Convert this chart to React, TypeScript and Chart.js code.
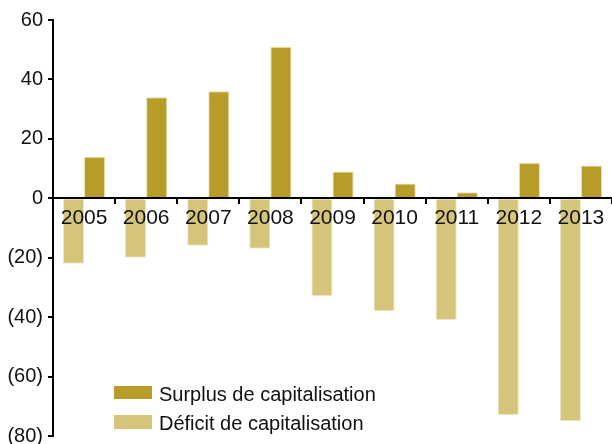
import React, { useEffect, useRef } from "react";
import { Chart, registerables } from "chart.js";

Chart.register(...registerables);

const years = ["2005", "2006", "2007", "2008", "2009", "2010", "2011", "2012", "2013"];
const surplus = [14, 34, 36, 51, 9, 5, 2, 12, 11];
const deficit = [-22, -20, -16, -17, -33, -38, -41, -73, -75];
const yTicks = [60, 40, 20, 0, -20, -40, -60, -80];
const legendLabels = ["Surplus de capitalisation", "Déficit de capitalisation"];

const SURPLUS_COLOR = "#B89C29";
const DEFICIT_COLOR = "#D5C57B";
const FONT = '"Liberation Sans", Arial, sans-serif';

export default function App() {
  const ref = useRef<HTMLCanvasElement | null>(null);

  useEffect(() => {
    if (!ref.current) return;
    const chart = new Chart(ref.current, {
      type: "bar",
      data: {
        labels: years,
        datasets: [
          {
            label: legendLabels[1],
            data: deficit,
            backgroundColor: DEFICIT_COLOR,
            borderColor: "#EFE7C4",
            borderWidth: 1,
            categoryPercentage: 0.68,
            barPercentage: 1.0,
          },
          {
            label: legendLabels[0],
            data: surplus,
            backgroundColor: SURPLUS_COLOR,
            borderColor: "#E9DFAE",
            borderWidth: 1,
            categoryPercentage: 0.68,
            barPercentage: 1.0,
          },
        ],
      },
      options: {
        animation: false,
        responsive: true,
        maintainAspectRatio: false,
        layout: { padding: { top: 20, bottom: 8, left: 0, right: 0 } },
        plugins: {
          legend: { display: false },
          tooltip: { enabled: false },
        },
        scales: {
          y: {
            min: -80,
            max: 60,
            afterFit: (scale: any) => {
              scale.width = 53;
              scale.paddingTop = 0;
              scale.paddingBottom = 0;
            },
            afterBuildTicks: (scale: any) => {
              scale.ticks = yTicks.map((v) => ({ value: v }));
            },
            ticks: {
              color: "#111",
              font: { family: FONT, size: 20 },
              padding: 5,
              callback: (v: any) => (Number(v) < 0 ? `(${-Number(v)})` : `${v}`),
            },
            grid: {
              drawOnChartArea: false,
              drawTicks: true,
              tickLength: 5,
              color: "#000",
              lineWidth: 2,
            },
            border: { display: true, color: "#000", width: 2 },
          },
          x: {
            type: "category",
            position: { y: 0 } as any,
            offset: true,
            afterFit: (scale: any) => {
              scale.height = 0;
              scale.paddingLeft = 0;
              scale.paddingRight = 0;
            },
            ticks: {
              z: 1,
              color: "#111",
              font: { family: FONT, size: 21 },
              padding: 2,
              maxRotation: 0,
            },
            grid: {
              z: 1,
              offset: true,
              drawOnChartArea: false,
              drawTicks: true,
              tickLength: 5,
              color: "#000",
              lineWidth: 2,
            },
            border: { z: 1, display: true, color: "#000", width: 2 },
          } as any,
        },
      },
    });
    return () => chart.destroy();
  }, []);

  const legendText: React.CSSProperties = {
    position: "absolute",
    left: 159,
    fontFamily: FONT,
    fontSize: 20,
    color: "#111",
    lineHeight: "20px",
    whiteSpace: "nowrap",
  };

  return (
    <div style={{ position: "fixed", left: 0, top: 0, width: 612, height: 444, background: "#fff" }}>
      <canvas ref={ref} />
      <div style={{ position: "absolute", left: 114, top: 386, width: 38, height: 13, background: SURPLUS_COLOR }} />
      <div style={{ ...legendText, top: 384 }}>{legendLabels[0]}</div>
      <div style={{ position: "absolute", left: 114, top: 415, width: 38, height: 14, background: DEFICIT_COLOR }} />
      <div style={{ ...legendText, top: 413 }}>{legendLabels[1]}</div>
    </div>
  );
}
